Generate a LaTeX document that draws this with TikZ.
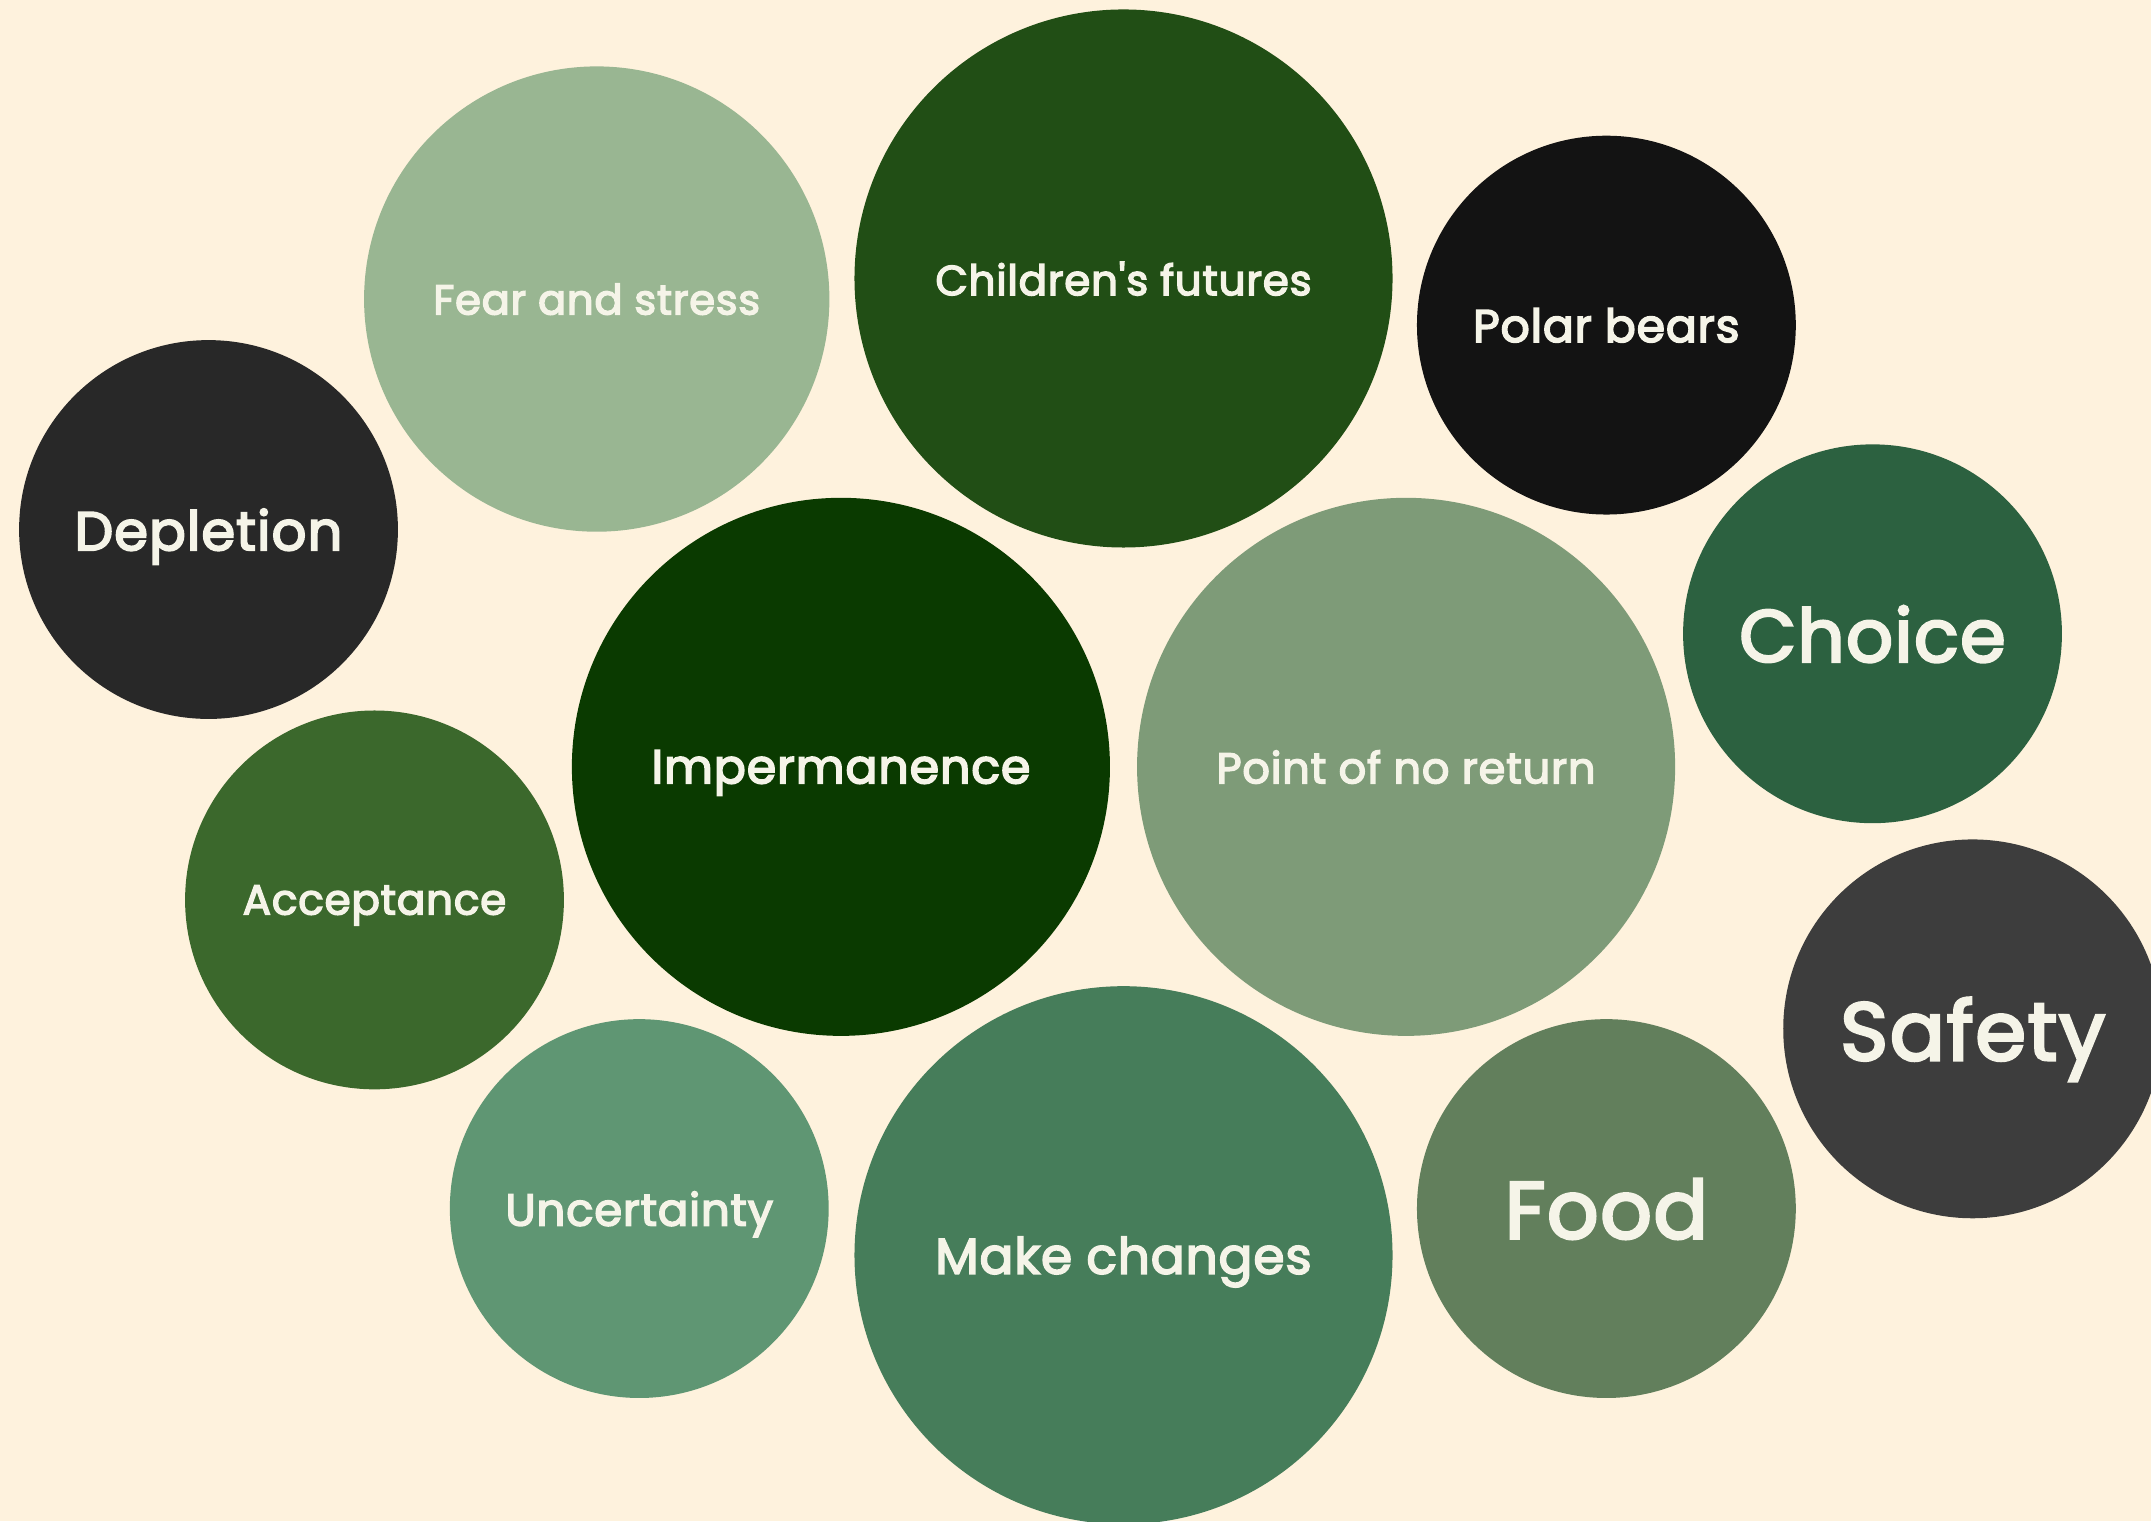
\documentclass[tikz,border=0pt]{standalone}
\usepackage{graphicx}
\usepackage{fontspec}
\setmainfont{Poppins}[Ligatures=TeXOff,FakeBold=3.5,LetterSpace=2]
\definecolor{bg}{HTML}{FEF2DD}
\definecolor{txt}{HTML}{F5F4E8}
\definecolor{cFear}{HTML}{99B692}
\definecolor{cChild}{HTML}{214E15}
\definecolor{cPolar}{HTML}{131313}
\definecolor{cDeple}{HTML}{282828}
\definecolor{cChoice}{HTML}{2C6140}
\definecolor{cImper}{HTML}{0A3A00}
\definecolor{cPoint}{HTML}{7E9B78}
\definecolor{cAccept}{HTML}{3B682C}
\definecolor{cSafety}{HTML}{3D3D3D}
\definecolor{cUncert}{HTML}{5F9673}
\definecolor{cMake}{HTML}{467D5A}
\definecolor{cFood}{HTML}{627F5C}
\newcommand\fitto[2]{\resizebox{#1}{!}{\raisebox{0pt}[\height][0pt]{#2}}}
\begin{document}
\begin{tikzpicture}[x=0.01cm,y=-0.01cm,
  bubble/.style={circle,inner sep=0pt,text=txt,draw=none},
  smallb/.style={bubble,minimum size=2.76cm},
  bigb/.style={bubble,minimum size=3.92cm},
  midb/.style={bubble,minimum size=3.39cm}]
\fill[bg] (0,0) rectangle (1568,1109);
\useasboundingbox (0,0) rectangle (1568,1109);
\node[midb,fill=cFear] (fear) at (435,218) {\fitto{2.38cm}{Fear and stress}};
\node[bigb,fill=cChild] (child) at (819,203) {\fitto{2.74cm}{Children's futures}};
\node[smallb,fill=cPolar] (polar) at (1171,237) {\fitto{1.94cm}{Polar bears}};
\node[smallb,fill=cDeple] (deple) at (152,386) {\fitto{1.95cm}{Depletion}};
\node[smallb,fill=cChoice] (choice) at (1365,462) {\fitto{1.94cm}{Choice}};
\node[bigb,fill=cImper] (imper) at (613,559) {\fitto{2.76cm}{Impermanence}};
\node[bigb,fill=cPoint] (point) at (1025,559) {\fitto{2.76cm}{Point of no return}};
\node[smallb,fill=cAccept] (accept) at (273,656) {\fitto{1.92cm}{Acceptance}};
\node[smallb,fill=cSafety] (safety) at (1438,750) {\fitto{1.93cm}{Safety}};
\node[smallb,fill=cUncert] (uncert) at (466,881) {\fitto{1.95cm}{Uncertainty}};
\node[bigb,fill=cMake] (make) at (819,915) {\fitto{2.74cm}{Make changes}};
\node[smallb,fill=cFood] (food) at (1171,881) {\fitto{1.48cm}{Food}};
\end{tikzpicture}
\end{document}
